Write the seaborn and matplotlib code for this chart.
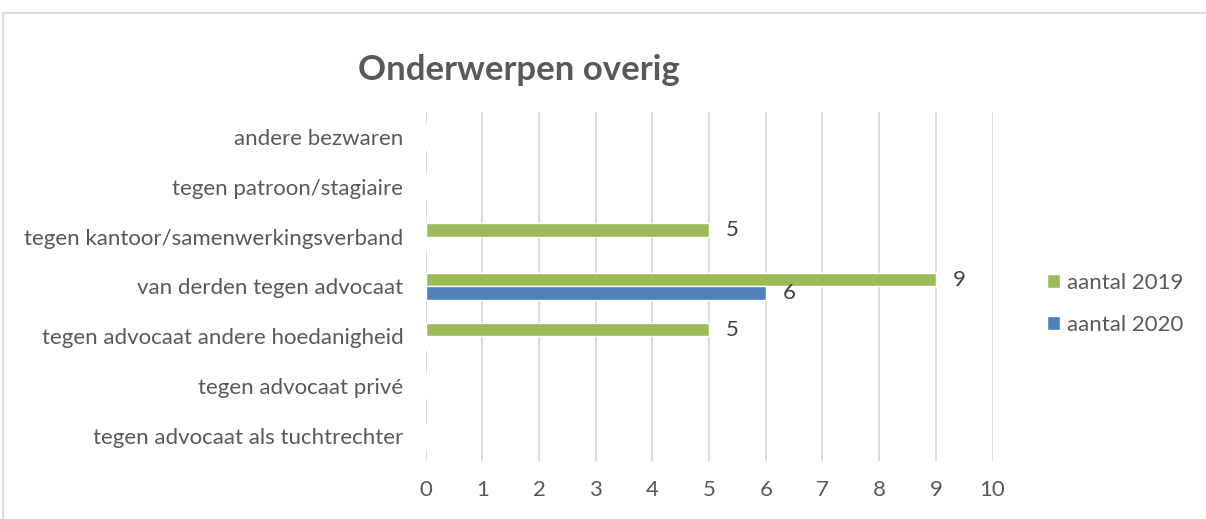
import pandas as pd
import matplotlib.pyplot as plt
import seaborn as sns
from matplotlib.patches import Rectangle

# Data
categories = [
    "andere bezwaren",
    "tegen patroon/stagiaire",
    "tegen kantoor/samenwerkingsverband",
    "van derden tegen advocaat",
    "tegen advocaat andere hoedanigheid",
    "tegen advocaat privé",
    "tegen advocaat als tuchtrechter",
]
aantal_2019 = [0, 0, 5, 9, 5, 0, 0]
aantal_2020 = [0, 0, 0, 6, 0, 0, 0]
series = ["aantal 2019", "aantal 2020"]
colors = ["#9BBB59", "#4F81BD"]

df = pd.DataFrame({
    "categorie": categories * 2,
    "aantal": aantal_2019 + aantal_2020,
    "reeks": [series[0]] * len(categories) + [series[1]] * len(categories),
})

sns.set_style("white")
plt.rcParams['font.family'] = ['Lato', 'DejaVu Sans']
text_color = "#595959"

fig = plt.figure(figsize=(12.06, 5.19), dpi=100)
ax = fig.add_axes([0.353, 0.112, 0.47, 0.672])

sns.barplot(data=df, y="categorie", x="aantal", hue="reeks", order=categories,
            hue_order=series, palette=colors, width=0.53, orient="h",
            saturation=1, ax=ax, legend=True)

ax.set_xlim(0, 10)
ax.set_xticks(range(0, 11))
ax.set_xlabel("")
ax.set_ylabel("")
for s in ax.spines.values():
    s.set_visible(False)
ax.grid(True, axis="x", color="#D9D9D9", linewidth=1.3)
ax.grid(False, axis="y")
ax.set_axisbelow(True)
ax.tick_params(axis="x", length=0, pad=14, labelsize=16, labelcolor=text_color)
ax.tick_params(axis="y", length=0, pad=16, labelsize=16, labelcolor=text_color)

# value labels only for non-zero bars
for cont in ax.containers:
    labels = [f"{b.get_width():g}" if b.get_width() > 0 else "" for b in cont]
    ax.bar_label(cont, labels=labels, padding=12, fontsize=16, color="#404040")

ax.legend(loc="center left", bbox_to_anchor=(1.06, 0.45), frameon=False,
          fontsize=16, labelcolor=text_color, handlelength=0.6, handleheight=0.6,
          handletextpad=0.3, labelspacing=1.0)

fig.text(0.43, 0.865, "Onderwerpen overig", ha="center", va="center",
         fontsize=25, fontweight="bold", color=text_color)

# chart area border
fig.patches.append(Rectangle((3 / 1206, -0.2), 1.2, 1.2 - 13 / 519,
                             transform=fig.transFigure, fill=False,
                             edgecolor="#D9D9D9", linewidth=1.3))

fig.savefig("out.png", dpi=100)
